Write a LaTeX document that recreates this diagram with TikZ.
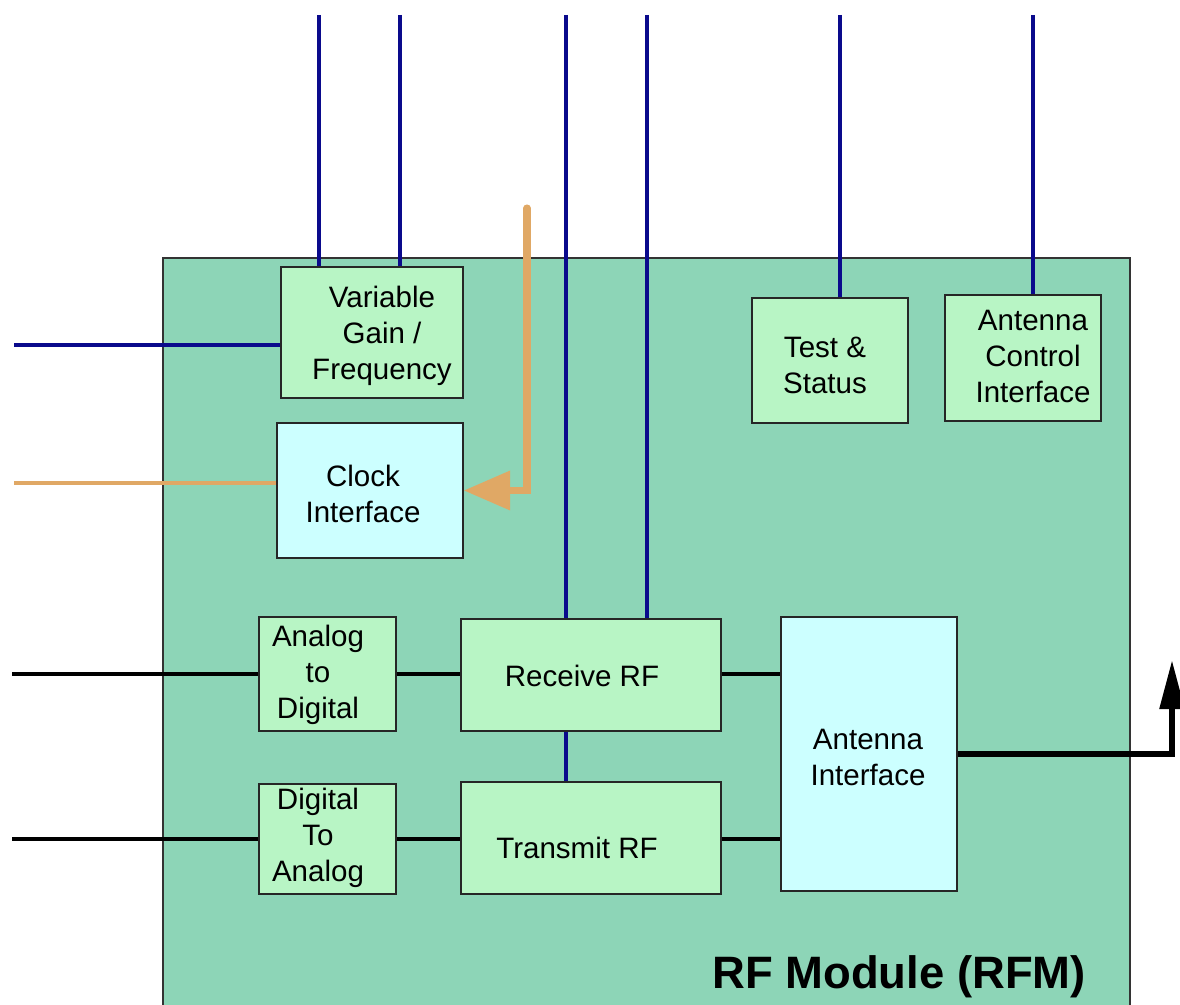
\documentclass[tikz,border=0pt]{standalone}
\usepackage{fontspec}
\setmainfont{Liberation Sans}
\usetikzlibrary{arrows.meta}
\definecolor{modfill}{HTML}{8DD5B7}
\definecolor{boxgreen}{HTML}{B8F5C5}
\definecolor{boxcyan}{HTML}{CCFFFF}
\definecolor{navy}{HTML}{0A0A8C}
\definecolor{clkorange}{HTML}{E0A865}
\begin{document}
\begin{tikzpicture}[x=0.025cm,y=-0.025cm,
  box/.style={draw=black!85, line width=1pt, fill=boxgreen, inner sep=0pt},
  cbox/.style={box, fill=boxcyan},
  txt/.style={align=center, font=\fontsize{21}{25.6}\selectfont, inner sep=0pt},
  bluel/.style={draw=navy, line width=2.2pt},
  blackl/.style={draw=black, line width=2.2pt},
  orgl/.style={draw=clkorange, line width=2.2pt},
  orgarrow/.style={draw=clkorange, line width=5pt, line cap=round, -{Triangle[length=33pt,width=27pt]}},
  outarrow/.style={draw=black, line width=4.3pt, -{Triangle[length=35pt,width=17pt]}}
]
\useasboundingbox (0,0) rectangle (1180,1005);
% module
\fill[modfill] (163,258) rectangle (1130,1005);
\draw[black!80, line width=1pt] (163,1005) -- (163,258) -- (1130,258) -- (1130,1005);
\node[anchor=base east, inner sep=0pt, font=\bfseries\fontsize{32.3}{36}\selectfont] (title) at (1086,988) {RF Module (RFM)};

% boxes
\node[box, minimum width=4.55cm, minimum height=3.275cm] (vg) at (372,332.5) {};
\node[cbox, minimum width=4.65cm, minimum height=3.375cm] (clk) at (370,490.5) {};
\node[box, minimum width=3.9cm, minimum height=3.125cm] (ts) at (830,360.5) {};
\node[box, minimum width=3.9cm, minimum height=3.15cm] (aci) at (1023,358) {};
\node[box, minimum width=3.425cm, minimum height=2.85cm] (ad) at (327.5,674) {};
\node[box, minimum width=3.425cm, minimum height=2.75cm] (da) at (327.5,839) {};
\node[box, minimum width=6.5cm, minimum height=2.8cm] (rx) at (591,675) {};
\node[box, minimum width=6.5cm, minimum height=2.8cm] (tx) at (591,838) {};
\node[cbox, minimum width=4.4cm, minimum height=6.85cm] (ai) at (869,754) {};

% texts
\node[txt] (vgT) at (382,336) {Variable\\Gain /\\Frequency};
\node[txt] (clkT) at (363,494) {Clock\\Interface};
\node[txt] (tsT) at (825,365) {Test \&\\Status};
\node[txt] (aciT) at (1033,356) {Antenna\\Control\\Interface};
\node[txt] (adT) at (318,675) {Analog\\to\\Digital};
\node[txt] (daT) at (318,838) {Digital\\To\\Analog};
\node[txt] (rxT) at (582,676) {Receive RF};
\node[txt] (txT) at (577,848) {Transmit RF};
\node[txt] (aiT) at (868,757) {Antenna\\Interface};

% free ends
\coordinate (b1) at (319,15);
\coordinate (b2) at (400,15);
\coordinate (b3) at (566,15);
\coordinate (b4) at (647,15);
\coordinate (b5) at (840,15);
\coordinate (b6) at (1033,15);
\coordinate (bl) at (14,345);
\coordinate (ol) at (14,483);
\coordinate (kl1) at (12,674);
\coordinate (kl2) at (12,839);
\coordinate (clkTop) at (527,208);
\coordinate (antOut) at (1172,660);

% blue lines
\draw[bluel] (b1) -- (b1 |- vg.north);
\draw[bluel] (b2) -- (b2 |- vg.north);
\draw[bluel] (b3) -- (b3 |- rx.north);
\draw[bluel] (b4) -- (b4 |- rx.north);
\draw[bluel] (b5) -- (b5 |- ts.north);
\draw[bluel] (b6) -- (b6 |- aci.north);
\draw[bluel] (bl) -- (bl -| vg.west);
\draw[bluel] (rx.south -| b3) -- (tx.north -| b3);

% orange
\draw[orgl] (ol) -- (ol -| clk.west);
\draw[orgarrow] (clkTop) |- (clk.east);

% black lines
\draw[blackl] (kl1) -- (kl1 -| ad.west);
\draw[blackl] (kl2) -- (kl2 -| da.west);
\draw[blackl] (ad.east) -- (ad.east -| rx.west);
\draw[blackl] (da.east) -- (da.east -| tx.west);
\draw[blackl] (rx.east |- ad.east) -- (ai.west |- ad.east);
\draw[blackl] (tx.east |- da.east) -- (ai.west |- da.east);
\draw[outarrow] (ai.east) -| (antOut);
\end{tikzpicture}
\end{document}
